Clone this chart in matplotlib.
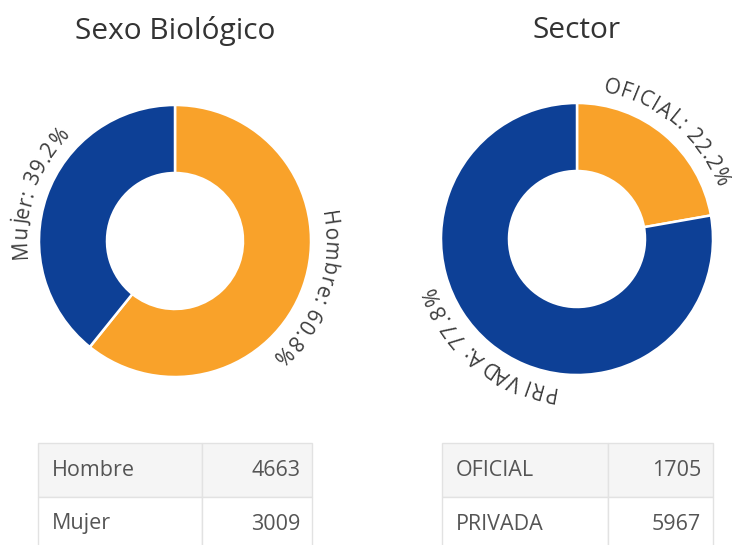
import numpy as np
import matplotlib
matplotlib.use('Agg')
import matplotlib.pyplot as plt
from matplotlib.font_manager import FontProperties
from matplotlib.table import Table

plt.rcParams['font.family'] = ['Open Sans', 'DejaVu Sans']

W, H = 732, 545

sexo_title = 'Sexo Biológico'
sexo_labels = ['Hombre', 'Mujer']
sexo_values = [4663, 3009]

sector_title = 'Sector'
sector_labels = ['OFICIAL', 'PRIVADA']
sector_values = [1705, 5967]

colors = ['#f9a22a', '#0d4096']

fig = plt.figure(figsize=(W / 100, H / 100), dpi=100)
ax = fig.add_axes([0, 0, 1, 1])
renderer = fig.canvas.get_renderer()


def wpx(t, fp):
    return renderer.get_text_width_height_descent(t, fp, ismath=False)[0]


def adv(ch, fp):
    # advance width: ink of 'x?x' minus ink of 'xx'
    return wpx('x' + ch + 'x', fp) - wpx('xx', fp)


def arc_text(s, cx, cy, R, theta_mid, fs, track=0.0):
    # characters laid out clockwise along the circle, tops outward
    fp = FontProperties(family=['Open Sans', 'DejaVu Sans'], size=fs)
    widths = [adv(ch, fp) + track for ch in s]
    total = sum(widths) - track
    pos = 0.0
    for ch, w in zip(s, widths):
        c = pos + (w - track) / 2
        pos += w
        if ch == ' ':
            continue
        th = np.radians(theta_mid) + (c - total / 2) / R
        x = cx + R * np.sin(th)
        y = (H - cy) + R * np.cos(th)
        ax.text(x, y, ch, fontproperties=fp, rotation=-np.degrees(th),
                rotation_mode='anchor', ha='center', va='baseline',
                color='#3d3d3d')


def donut(title, labels, vals, cx, cy, r):
    ax.pie(vals, colors=colors, center=(cx, H - cy), radius=r, startangle=90,
           counterclock=False,
           wedgeprops=dict(width=r * 0.5, edgecolor='white', linewidth=1.8))
    tot = float(sum(vals))
    cum = 0.0
    for lab, v in zip(labels, vals):
        mid = (cum + v / 2) / tot * 360
        cum += v
        arc_text(f'{lab}: {100 * v / tot:.1f}%', cx, cy, r + 13, mid, 15, 0.9)
    ax.text(cx, H - 31, title, ha='center', va='center', fontsize=21.5,
            color='#333333')


def table(labels, vals, x0, xsep, x1):
    top, rh = 443, 54
    tb = Table(ax, bbox=[x0 / W, (H - top - 2 * rh) / H, (x1 - x0) / W, 2 * rh / H])
    w0 = (xsep - x0) / (x1 - x0)
    for r, (lab, v) in enumerate(zip(labels, vals)):
        fc = '#f5f5f5' if r == 0 else 'white'
        c0 = tb.add_cell(r, 0, w0, 0.5, text=lab, loc='left', facecolor=fc,
                         edgecolor='#e2e2e2')
        c1 = tb.add_cell(r, 1, 1 - w0, 0.5, text=str(v), loc='right',
                         facecolor=fc, edgecolor='#e2e2e2')
        c0.PAD = 14 / (xsep - x0)
        c1.PAD = 12 / (x1 - xsep)
        for c in (c0, c1):
            c.get_text().set_color('#555555')
    tb.auto_set_font_size(False)
    tb.set_fontsize(15.5)
    ax.add_table(tb)


donut(sexo_title, sexo_labels, sexo_values, 175, 241, 136)
donut(sector_title, sector_labels, sector_values, 577, 239, 136)
table(sexo_labels, sexo_values, 38, 202, 312)
table(sector_labels, sector_values, 442, 608, 713)

ax.set_xlim(0, W)
ax.set_ylim(0, H)
ax.set_aspect('equal')
ax.axis('off')

fig.savefig('out.png', dpi=100)
